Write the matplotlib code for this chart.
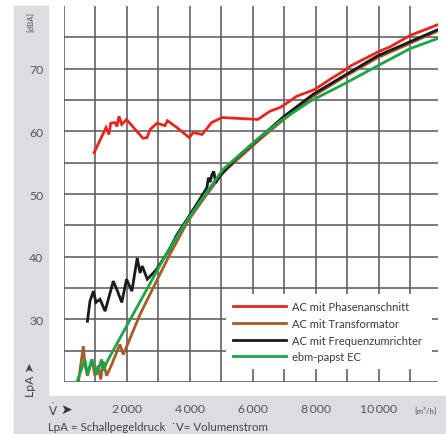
import matplotlib
matplotlib.use("Agg")
import matplotlib.pyplot as plt
from matplotlib.patches import Rectangle

plt.rcParams['font.family'] = ['Lato', 'DejaVu Sans']

# data (x in m3/h, y in dBA)
red_x = [970, 1350, 1440, 1500, 1630, 1700, 1760, 1850, 2000, 2520, 2650, 2750,
         2970, 3220, 3300, 3600, 3990, 4120, 4400, 4700, 5030, 6170, 6550, 6870,
         7030, 7400, 7830, 7980, 8460, 8880, 9100, 9950, 10370, 11000, 11870]
red_y = [56.6, 60.6, 59.5, 61.3, 61.4, 60.8, 62.4, 61.1, 61.9, 58.9, 59.0, 60.3,
         61.3, 60.9, 61.7, 60.6, 59.0, 59.8, 59.5, 61.4, 62.2, 61.9, 63.2, 63.8,
         64.3, 65.6, 66.4, 66.7, 68.3, 69.6, 70.4, 72.6, 73.5, 75.3, 77.0]

brn_x = [470, 630, 680, 760, 900, 1000, 1100, 1180, 1260, 1370, 1530, 1790, 1900,
         2430, 3060, 3380, 3950, 4500, 5060, 6140, 6870, 7500, 7920, 8880, 9950,
         10580, 11870]
brn_y = [19.9, 25.7, 22.8, 21.0, 23.6, 21.0, 22.6, 20.4, 23.3, 21.0, 22.8, 26.0, 24.4,
         30.8, 37.2, 40.4, 45.7, 49.6, 53.4, 58.3, 61.4, 63.9, 65.6, 68.6, 71.7,
         73.1, 76.0]

blk_x = [760, 840, 950, 1030, 1160, 1320, 1580, 1690, 1850, 2000, 2170, 2340, 2430,
         2500, 2660, 2960, 3330, 3600, 3950, 4280, 4550, 4600, 4650, 4710, 4770,
         4830, 4950, 5500, 6140, 7000, 7920, 8880, 9950, 11000, 11870]
blk_y = [29.7, 32.9, 34.5, 32.7, 33.2, 31.3, 36.1, 34.8, 32.7, 36.4, 34.5, 39.8, 37.4,
         38.5, 36.4, 38.0, 40.9, 43.5, 46.2, 48.8, 51.0, 52.6, 51.9, 53.1, 53.6,
         51.8, 52.8, 55.8, 58.6, 62.4, 65.9, 68.8, 72.0, 74.3, 76.2]

grn_x = [420, 680, 760, 900, 1050, 1210, 1260, 1420, 3280, 3950, 4380, 5060, 6140,
         6870, 7830, 8880, 9950, 11000, 11870]
grn_y = [19.9, 23.6, 21.2, 23.6, 21.2, 23.6, 21.8, 23.6, 40.6, 46.0, 49.1, 53.9, 58.7,
         61.6, 64.8, 67.5, 70.4, 73.2, 74.8]

labels = ["AC mit Phasenanschnitt", "AC mit Transformator",
          "AC mit Frequenzumrichter", "ebm-papst EC"]
colors = ["#e8261e", "#a85a28", "#1b1b1b", "#1aa548"]

xticks = list(range(0, 12000, 1000))
xticklabels = ["" if (t == 0 or t % 2000) else f"{t // 1000}\u2009000" for t in xticks]
yticks = list(range(20, 80, 5))
yticklabels = [str(t) if (t % 10 == 0 and 30 <= t <= 70) else "" for t in yticks]

fig = plt.figure(figsize=(4.46, 4.35), dpi=100)
bg = "#dcdde0"
fig.patches.append(Rectangle((14 / 446, 0), 34 / 446, 428 / 435,
                             transform=fig.transFigure, color=bg, zorder=-5))
fig.patches.append(Rectangle((14 / 446, 0), 432 / 446, 38 / 435,
                             transform=fig.transFigure, color=bg, zorder=-5))

ax = fig.add_axes([63.5 / 446, 52 / 435, 374 / 446, 376 / 435])
ax.set_facecolor("white")
for xs, ys, lab, c in zip([red_x, brn_x, blk_x, grn_x], [red_y, brn_y, blk_y, grn_y],
                          labels, colors):
    ax.plot(xs, ys, color=c, lw=2.0, label=lab, solid_joinstyle="miter")

ax.set_xlim(0, 11870)
ax.set_ylim(20, 80)
ax.set_xticks(xticks)
ax.set_xticklabels(xticklabels)
ax.set_yticks(yticks)
ax.set_yticklabels(yticklabels)
ax.tick_params(length=0, colors="#555555", labelsize=8.8)
ax.tick_params(axis="x", pad=15)
ax.tick_params(axis="y", pad=14.5)
ax.grid(True, color="#5c5c5c", lw=1.15)
ax.set_axisbelow(True)
for s in ax.spines.values():
    s.set_visible(False)

leg = ax.legend(loc="lower left", bbox_to_anchor=(0.4345, 0.0346, 0.5505, 0.2074),
                mode="expand", fontsize=8.0, frameon=True, fancybox=False,
                framealpha=1, facecolor="white", edgecolor="none",
                handlelength=4.8, handletextpad=0.55, borderpad=0.6,
                labelspacing=0.52, borderaxespad=0)
leg.get_frame().set_linewidth(0)
for t in leg.get_texts():
    t.set_color("#3a3a3a")

fig.text(31 / 446, 1 - 22 / 435, "[dBA]", rotation=90, ha="center", va="center",
         fontsize=5.8, color="#555555")
fig.text(31 / 446, 1 - 380 / 435, "LpA \u27a4", rotation=90, ha="center", va="center",
         fontsize=8.8, color="#444444")
fig.text(48 / 446, 1 - 410 / 435, "$\\dot{\\mathrm{V}}$", ha="left", va="center",
         fontsize=8.6, color="#444444")
fig.text(60 / 446, 1 - 410 / 435, "\u27a4", ha="left", va="center",
         fontsize=10, color="#333333")
fig.text(425 / 446, 1 - 410 / 435, "[m\u00b3/h]", ha="center", va="center",
         fontsize=5.8, color="#555555")
fig.text(48 / 446, 1 - 428 / 435, "LpA = Schallpegeldruck  \u02d9V= Volumenstrom",
         ha="left", va="center", fontsize=8.3, color="#444444")

fig.savefig("out.png", dpi=100)
